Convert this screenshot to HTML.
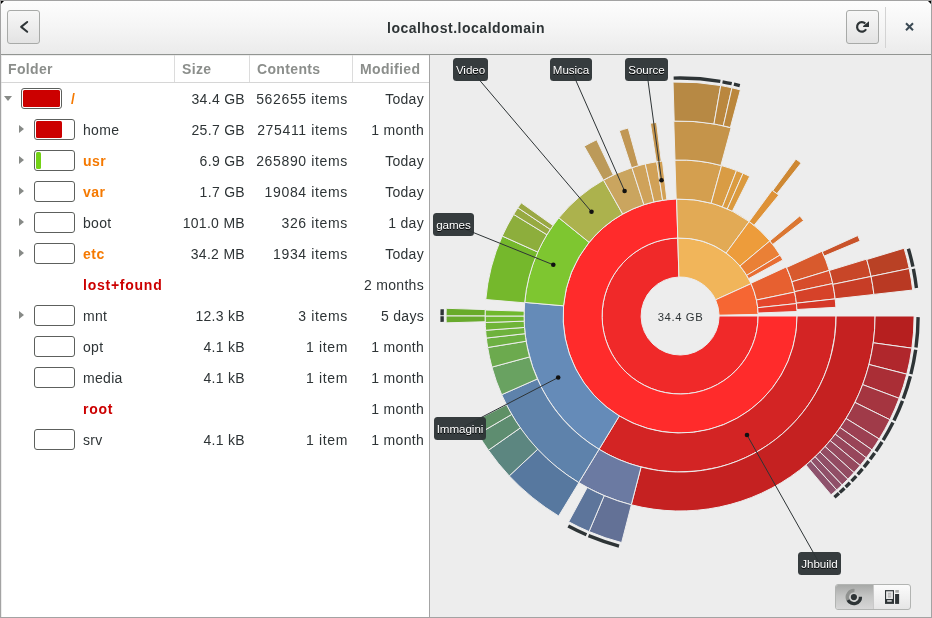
<!DOCTYPE html>
<html><head><meta charset="utf-8"><title>Disk Usage Analyzer</title>
<style>
*{box-sizing:border-box;margin:0;padding:0}
html,body{width:932px;height:618px;overflow:hidden;background:#ededed;font-family:"Liberation Sans",sans-serif;color:#2e3436}
#win{position:absolute;left:0;top:0;width:932px;height:618px;border:1px solid #a3a3a3;overflow:hidden}
#hdr{position:absolute;left:1px;top:1px;width:930px;height:54px;background:linear-gradient(#fdfdfd,#f5f5f5 50%,#ebebeb);border-bottom:1px solid #929592}
#corner{position:absolute;left:1px;top:1px;width:0;height:0;border-top:3px solid #000;border-right:3px solid transparent}
#corner2{position:absolute;right:1px;top:1px;width:0;height:0;border-top:3px solid #000;border-left:3px solid transparent}
.btn{position:absolute;top:10px;width:33px;height:34px;border:1px solid #a8aaa8;border-radius:3px;background:linear-gradient(#f7f7f7,#e3e3e3)}
#title{position:absolute;left:0;top:19px;width:932px;text-align:center;font-weight:bold;font-size:14px;line-height:18px;letter-spacing:.52px;color:#2e3436}
#sep{position:absolute;left:885px;top:7px;width:1px;height:41px;background:#d3d3d3}
#tree{position:absolute;left:1px;top:55px;width:428px;height:562px;background:#fff}
#div{position:absolute;left:429px;top:55px;width:1px;height:562px;background:#a4a4a4}
#chartbg{position:absolute;left:430px;top:55px;width:501px;height:562px;background:#ededed}
.th{position:absolute;top:56px;height:27px;font-weight:bold;font-size:14px;line-height:27px;color:#8b8e8b;letter-spacing:.35px}
.vs{position:absolute;top:55px;width:1px;height:27px;background:#dcdcdc}
#hl{position:absolute;left:1px;top:82px;width:428px;height:1px;background:#d6d6d6}
.row{position:absolute;left:0;width:429px;height:31px;font-size:14px;line-height:31px;letter-spacing:.3px;white-space:nowrap}
.row span{position:absolute;top:1px}
.exd{position:absolute;left:4px;top:13px;width:0;height:0;border-left:4.5px solid transparent;border-right:4.5px solid transparent;border-top:5px solid #878a87}
.exr{position:absolute;left:19px;top:11px;width:0;height:0;border-top:4.8px solid transparent;border-bottom:4.8px solid transparent;border-left:5.2px solid #878a87}
.row .bar{top:5px;width:41px;height:21px;border:1px solid #5d605d;border-radius:3px;background:#fff}
.bar b{position:absolute;left:1px;top:1px;height:17px;border-radius:1.5px}
.nm.o{font-weight:bold;color:#f57900;letter-spacing:.5px}
.nm.r{font-weight:bold;color:#cc0000;letter-spacing:.75px}
.c1{right:184px}.c2{right:81px;letter-spacing:.65px}.c3{right:5px}
.chart{position:absolute;left:0;top:0}
.tip{position:absolute;height:23px;border-radius:3.5px;background:rgba(46,52,54,.96);color:#fff;font-size:11.6px;padding-top:2px;line-height:19.6px;text-align:center;letter-spacing:-.05px;text-shadow:0 1px 0 #000}
#ctr{position:absolute;left:640.5px;top:308px;width:80px;text-align:center;font-size:11.3px;line-height:18px;letter-spacing:.6px;color:#2e3436}
#tog{position:absolute;left:835px;top:584px;width:76px;height:26px;border:1px solid #b2b4b2;border-radius:3px;background:linear-gradient(#fbfbfb,#e6e6e6);overflow:hidden}
#tog i{position:absolute;left:0;top:0;width:37.6px;height:24px;background:linear-gradient(#a7a9a7,#c3c4c3 45%,#d6d6d6);border-right:1px solid #c9c9c9}
</style></head><body>
<div id="all" style="position:absolute;left:0;top:0;width:932px;height:618px;will-change:transform">
<div id="win">
<div id="chartbg"></div>
<div id="tree"></div>
</div>
<div id="hdr"></div><div id="corner"></div><div id="corner2"></div>
<div class="btn" style="left:7px"><svg width="31" height="32" viewBox="0 0 31 32"><path d="M19.2 11L13.15 15.9L19.2 20.8" fill="none" stroke="#2e3436" stroke-width="2" stroke-linecap="round" stroke-linejoin="round"/></svg></div>
<div id="title">localhost.localdomain</div>
<div class="btn" style="left:846px"><svg width="31" height="32" viewBox="0 0 31 32"><path d="M18.29 12.51A4.8 4.8 0 1 0 19.06 18.3" fill="none" stroke="#2e3436" stroke-width="2.2"/><path d="M22 10.2V16.1H16.1V15Z" fill="#2e3436"/></svg></div>
<div id="sep"></div>
<svg style="position:absolute;left:903.9px;top:21.3px" width="12" height="12" viewBox="0 0 12 12"><path d="M2 2.3L9 9.3M9 2.3L2 9.3" stroke="#3b4a54" stroke-width="2" fill="none"/></svg>
<div id="div"></div>
<div class="th" style="left:8px">Folder</div><div class="th" style="left:182px">Size</div><div class="th" style="left:257px">Contents</div><div class="th" style="left:360px">Modified</div>
<div class="vs" style="left:174px"></div><div class="vs" style="left:249px"></div><div class="vs" style="left:352px"></div>
<div id="hl"></div>
<div class="row" style="top:83px"><i class="exd"></i><span class="bar" style="left:21px"><b style="width:37px;background:#cc0000"></b></span><span class="nm o" style="left:71px">/</span><span class="c1">34.4 GB</span><span class="c2">562655 items</span><span class="c3">Today</span></div>
<div class="row" style="top:114px"><i class="exr"></i><span class="bar" style="left:34px"><b style="width:26px;background:#cc0000"></b></span><span class="nm n" style="left:83px">home</span><span class="c1">25.7 GB</span><span class="c2">275411 items</span><span class="c3">1 month</span></div>
<div class="row" style="top:145px"><i class="exr"></i><span class="bar" style="left:34px"><b style="width:5px;background:#73d216"></b></span><span class="nm o" style="left:83px">usr</span><span class="c1">6.9 GB</span><span class="c2">265890 items</span><span class="c3">Today</span></div>
<div class="row" style="top:176px"><i class="exr"></i><span class="bar" style="left:34px"></span><span class="nm o" style="left:83px">var</span><span class="c1">1.7 GB</span><span class="c2">19084 items</span><span class="c3">Today</span></div>
<div class="row" style="top:207px"><i class="exr"></i><span class="bar" style="left:34px"></span><span class="nm n" style="left:83px">boot</span><span class="c1">101.0 MB</span><span class="c2">326 items</span><span class="c3">1 day</span></div>
<div class="row" style="top:238px"><i class="exr"></i><span class="bar" style="left:34px"></span><span class="nm o" style="left:83px">etc</span><span class="c1">34.2 MB</span><span class="c2">1934 items</span><span class="c3">Today</span></div>
<div class="row" style="top:269px"><span class="nm r" style="left:83px">lost+found</span><span class="c1"></span><span class="c2"></span><span class="c3">2 months</span></div>
<div class="row" style="top:300px"><i class="exr"></i><span class="bar" style="left:34px"></span><span class="nm n" style="left:83px">mnt</span><span class="c1">12.3 kB</span><span class="c2">3 items</span><span class="c3">5 days</span></div>
<div class="row" style="top:331px"><span class="bar" style="left:34px"></span><span class="nm n" style="left:83px">opt</span><span class="c1">4.1 kB</span><span class="c2">1 item</span><span class="c3">1 month</span></div>
<div class="row" style="top:362px"><span class="bar" style="left:34px"></span><span class="nm n" style="left:83px">media</span><span class="c1">4.1 kB</span><span class="c2">1 item</span><span class="c3">1 month</span></div>
<div class="row" style="top:393px"><span class="nm r" style="left:83px">root</span><span class="c1"></span><span class="c2"></span><span class="c3">1 month</span></div>
<div class="row" style="top:424px"><span class="bar" style="left:34px"></span><span class="nm n" style="left:83px">srv</span><span class="c1">4.1 kB</span><span class="c2">1 item</span><span class="c3">1 month</span></div>
<svg class="chart" width="932" height="618" viewBox="0 0 932 618">
<g stroke="#ededed" stroke-width="1" stroke-linejoin="round">
<path d="M719.10 316.00L758.10 316.00A78.00 78.00 0 1 1 677.79 238.03L678.94 277.02A39.00 39.00 0 1 0 719.10 316.00Z" fill="#f02929"/>
<path d="M678.94 277.02L677.79 238.03A78.00 78.00 0 0 1 751.08 283.65L715.59 299.83A39.00 39.00 0 0 0 678.94 277.02Z" fill="#f1b55a"/>
<path d="M715.59 299.83L751.08 283.65A78.00 78.00 0 0 1 758.08 314.37L719.09 315.18A39.00 39.00 0 0 0 715.59 299.83Z" fill="#f66633"/>
<path d="M758.10 316.00L797.10 316.00A117.00 117.00 0 1 1 676.63 199.05L677.79 238.03A78.00 78.00 0 1 0 758.10 316.00Z" fill="#ff2b2b"/>
<path d="M677.79 238.03L676.63 199.05A117.00 117.00 0 0 1 749.20 221.59L726.17 253.06A78.00 78.00 0 0 0 677.79 238.03Z" fill="#e2aa55"/>
<path d="M726.17 253.06L749.20 221.59A117.00 117.00 0 0 1 769.86 240.95L739.94 265.97A78.00 78.00 0 0 0 726.17 253.06Z" fill="#ed9c3b"/>
<path d="M739.94 265.97L769.86 240.95A117.00 117.00 0 0 1 779.97 255.04L746.68 275.36A78.00 78.00 0 0 0 739.94 265.97Z" fill="#ea8036"/>
<path d="M746.68 275.36L779.97 255.04A117.00 117.00 0 0 1 782.82 259.98L748.58 278.65A78.00 78.00 0 0 0 746.68 275.36Z" fill="#e86e33"/>
<path d="M750.91 283.29L786.32 266.94A117.00 117.00 0 0 1 794.63 292.07L756.45 300.05A78.00 78.00 0 0 0 750.91 283.29Z" fill="#e76030"/>
<path d="M756.45 300.05L794.63 292.07A117.00 117.00 0 0 1 796.44 303.57L757.66 307.71A78.00 78.00 0 0 0 756.45 300.05Z" fill="#e4462c"/>
<path d="M757.66 307.71L796.44 303.57A117.00 117.00 0 0 1 797.01 311.51L758.04 313.01A78.00 78.00 0 0 0 757.66 307.71Z" fill="#e33a2a"/>
<path d="M797.10 316.00L836.10 316.00A156.00 156.00 0 0 1 599.06 449.30L619.32 415.97A117.00 117.00 0 0 0 797.10 316.00Z" fill="#d32424"/>
<path d="M619.32 415.97L599.06 449.30A156.00 156.00 0 0 1 524.69 302.40L563.55 305.80A117.00 117.00 0 0 0 619.32 415.97Z" fill="#658bb8"/>
<path d="M563.55 305.80L524.69 302.40A156.00 156.00 0 0 1 558.87 217.83L589.17 242.37A117.00 117.00 0 0 0 563.55 305.80Z" fill="#7ec630"/>
<path d="M589.17 242.37L558.87 217.83A156.00 156.00 0 0 1 603.52 180.09L622.66 214.07A117.00 117.00 0 0 0 589.17 242.37Z" fill="#acb24d"/>
<path d="M622.66 214.07L603.52 180.09A156.00 156.00 0 0 1 631.89 167.64L643.95 204.73A117.00 117.00 0 0 0 622.66 214.07Z" fill="#caa55f"/>
<path d="M643.95 204.73L631.89 167.64A156.00 156.00 0 0 1 645.27 163.94L653.98 201.95A117.00 117.00 0 0 0 643.95 204.73Z" fill="#cfa25a"/>
<path d="M653.98 201.95L645.27 163.94A156.00 156.00 0 0 1 656.77 161.75L662.60 200.32A117.00 117.00 0 0 0 653.98 201.95Z" fill="#d1a157"/>
<path d="M662.60 200.32L656.77 161.75A156.00 156.00 0 0 1 662.47 161.00L666.88 199.75A117.00 117.00 0 0 0 662.60 200.32Z" fill="#d2a054"/>
<path d="M676.20 199.06L674.90 160.09A156.00 156.00 0 0 1 721.53 165.60L711.17 203.20A117.00 117.00 0 0 0 676.20 199.06Z" fill="#d49f4f"/>
<path d="M711.17 203.20L721.53 165.60A156.00 156.00 0 0 1 736.51 170.56L722.41 206.92A117.00 117.00 0 0 0 711.17 203.20Z" fill="#d99c44"/>
<path d="M722.41 206.92L736.51 170.56A156.00 156.00 0 0 1 743.05 173.27L727.31 208.95A117.00 117.00 0 0 0 722.41 206.92Z" fill="#db9b40"/>
<path d="M727.31 208.95L743.05 173.27A156.00 156.00 0 0 1 749.73 176.40L732.32 211.30A117.00 117.00 0 0 0 727.31 208.95Z" fill="#db9a3e"/>
<path d="M749.18 221.57L772.21 190.10A156.00 156.00 0 0 1 778.72 195.13L754.06 225.34A117.00 117.00 0 0 0 749.18 221.57Z" fill="#de9237"/>
<path d="M769.85 240.93L799.76 215.91A156.00 156.00 0 0 1 803.55 220.62L772.69 244.47A117.00 117.00 0 0 0 769.85 240.93Z" fill="#db7732"/>
<path d="M786.56 267.46L822.04 251.28A156.00 156.00 0 0 1 829.28 270.39L791.99 281.79A117.00 117.00 0 0 0 786.56 267.46Z" fill="#d85a2d"/>
<path d="M791.99 281.79L829.28 270.39A156.00 156.00 0 0 1 832.69 283.57L794.54 291.67A117.00 117.00 0 0 0 791.99 281.79Z" fill="#d74c2b"/>
<path d="M794.54 291.67L832.69 283.57A156.00 156.00 0 0 1 835.16 298.88L796.39 303.16A117.00 117.00 0 0 0 794.54 291.67Z" fill="#d64229"/>
<path d="M796.39 303.16L835.16 298.88A156.00 156.00 0 0 1 835.86 307.32L796.92 309.49A117.00 117.00 0 0 0 796.39 303.16Z" fill="#d53727"/>
<path d="M836.10 316.00L875.10 316.00A195.00 195.00 0 0 1 631.28 504.79L641.04 467.03A156.00 156.00 0 0 0 836.10 316.00Z" fill="#c52121"/>
<path d="M641.04 467.03L631.28 504.79A195.00 195.00 0 0 1 578.79 482.62L599.06 449.30A156.00 156.00 0 0 0 641.04 467.03Z" fill="#6b7aa2"/>
<path d="M599.06 449.30L578.79 482.62A195.00 195.00 0 0 1 501.68 394.69L537.37 378.95A156.00 156.00 0 0 0 599.06 449.30Z" fill="#5e82ab"/>
<path d="M537.37 378.95L501.68 394.69A195.00 195.00 0 0 1 491.92 367.13L529.56 356.90A156.00 156.00 0 0 0 537.37 378.95Z" fill="#69a261"/>
<path d="M529.56 356.90L491.92 367.13A195.00 195.00 0 0 1 487.66 347.51L526.15 341.21A156.00 156.00 0 0 0 529.56 356.90Z" fill="#6caa4e"/>
<path d="M526.15 341.21L487.66 347.51A195.00 195.00 0 0 1 486.35 338.07L525.10 333.66A156.00 156.00 0 0 0 526.15 341.21Z" fill="#6db042"/>
<path d="M525.10 333.66L486.35 338.07A195.00 195.00 0 0 1 485.62 330.28L524.52 327.43A156.00 156.00 0 0 0 525.10 333.66Z" fill="#6eb23c"/>
<path d="M524.52 327.43L485.62 330.28A195.00 195.00 0 0 1 485.21 322.47L524.19 321.17A156.00 156.00 0 0 0 524.52 327.43Z" fill="#6fb437"/>
<path d="M524.19 321.17L485.21 322.47A195.00 195.00 0 0 1 485.10 316.00L524.10 316.00A156.00 156.00 0 0 0 524.19 321.17Z" fill="#70b732"/>
<path d="M524.10 316.00L485.10 316.00A195.00 195.00 0 0 1 485.19 310.00L524.17 311.20A156.00 156.00 0 0 0 524.10 316.00Z" fill="#70b82e"/>
<path d="M524.66 302.85L485.79 299.56A195.00 195.00 0 0 1 502.24 236.07L537.81 252.05A156.00 156.00 0 0 0 524.66 302.85Z" fill="#75b82c"/>
<path d="M537.81 252.05L502.24 236.07A195.00 195.00 0 0 1 513.66 214.40L546.95 234.72A156.00 156.00 0 0 0 537.81 252.05Z" fill="#8dae3c"/>
<path d="M546.95 234.72L513.66 214.40A195.00 195.00 0 0 1 517.87 207.81L550.32 229.44A156.00 156.00 0 0 0 546.95 234.72Z" fill="#97aa41"/>
<path d="M550.32 229.44L517.87 207.81A195.00 195.00 0 0 1 521.27 202.86L553.04 225.49A156.00 156.00 0 0 0 550.32 229.44Z" fill="#9aa843"/>
<path d="M603.37 180.18L584.19 146.22A195.00 195.00 0 0 1 596.65 139.76L613.34 175.01A156.00 156.00 0 0 0 603.37 180.18Z" fill="#bc9a59"/>
<path d="M631.47 167.77L619.31 130.72A195.00 195.00 0 0 1 628.20 128.03L638.58 165.63A156.00 156.00 0 0 0 631.47 167.77Z" fill="#c19754"/>
<path d="M656.33 161.82L650.39 123.28A195.00 195.00 0 0 1 656.55 122.43L661.26 161.14A156.00 156.00 0 0 0 656.33 161.82Z" fill="#c4954e"/>
<path d="M675.03 160.08L673.76 121.10A195.00 195.00 0 0 1 731.11 127.79L720.90 165.43A156.00 156.00 0 0 0 675.03 160.08Z" fill="#c5944a"/>
<path d="M772.75 190.50L795.92 159.12A195.00 195.00 0 0 1 801.13 163.10L776.92 193.68A156.00 156.00 0 0 0 772.75 190.50Z" fill="#ce8833"/>
<path d="M822.21 251.65L857.73 235.56A195.00 195.00 0 0 1 860.14 241.10L824.13 256.08A156.00 156.00 0 0 0 822.21 251.65Z" fill="#c9532a"/>
<path d="M829.31 270.49L866.62 259.11A195.00 195.00 0 0 1 871.05 276.46L832.86 284.37A156.00 156.00 0 0 0 829.31 270.49Z" fill="#c84628"/>
<path d="M832.86 284.37L871.05 276.46A195.00 195.00 0 0 1 873.91 294.48L835.15 298.78A156.00 156.00 0 0 0 832.86 284.37Z" fill="#c73d26"/>
<path d="M875.10 316.00L914.10 316.00A234.00 234.00 0 0 1 911.88 348.16L873.25 342.80A195.00 195.00 0 0 0 875.10 316.00Z" fill="#b61f1f"/>
<path d="M873.25 342.80L911.88 348.16A234.00 234.00 0 0 1 906.75 374.19L868.97 364.49A195.00 195.00 0 0 0 873.25 342.80Z" fill="#b0272c"/>
<path d="M868.97 364.49L906.75 374.19A234.00 234.00 0 0 1 899.14 398.33L862.63 384.61A195.00 195.00 0 0 0 868.97 364.49Z" fill="#aa2e36"/>
<path d="M862.63 384.61L899.14 398.33A234.00 234.00 0 0 1 889.88 419.68L854.91 402.40A195.00 195.00 0 0 0 862.63 384.61Z" fill="#a53540"/>
<path d="M854.91 402.40L889.88 419.68A234.00 234.00 0 0 1 879.19 438.96L846.01 418.47A195.00 195.00 0 0 0 854.91 402.40Z" fill="#a03b49"/>
<path d="M846.01 418.47L879.19 438.96A234.00 234.00 0 0 1 872.02 449.88L840.03 427.57A195.00 195.00 0 0 0 846.01 418.47Z" fill="#9c4052"/>
<path d="M840.03 427.57L872.02 449.88A234.00 234.00 0 0 1 866.24 457.80L835.22 434.17A195.00 195.00 0 0 0 840.03 427.57Z" fill="#994457"/>
<path d="M835.22 434.17L866.24 457.80A234.00 234.00 0 0 1 860.14 465.47L830.13 440.56A195.00 195.00 0 0 0 835.22 434.17Z" fill="#97465b"/>
<path d="M830.13 440.56L860.14 465.47A234.00 234.00 0 0 1 854.00 472.58L825.01 446.48A195.00 195.00 0 0 0 830.13 440.56Z" fill="#95495e"/>
<path d="M825.01 446.48L854.00 472.58A234.00 234.00 0 0 1 847.86 479.14L819.90 451.95A195.00 195.00 0 0 0 825.01 446.48Z" fill="#934b62"/>
<path d="M819.90 451.95L847.86 479.14A234.00 234.00 0 0 1 842.06 484.89L815.07 456.74A195.00 195.00 0 0 0 819.90 451.95Z" fill="#914e66"/>
<path d="M815.07 456.74L842.06 484.89A234.00 234.00 0 0 1 836.68 489.90L810.58 460.91A195.00 195.00 0 0 0 815.07 456.74Z" fill="#905069"/>
<path d="M810.58 460.91L836.68 489.90A234.00 234.00 0 0 1 831.03 494.82L805.88 465.01A195.00 195.00 0 0 0 810.58 460.91Z" fill="#8e526c"/>
<path d="M631.39 504.82L621.64 542.58A234.00 234.00 0 0 1 589.04 531.56L604.22 495.63A195.00 195.00 0 0 0 631.39 504.82Z" fill="#637196"/>
<path d="M604.22 495.63L589.04 531.56A234.00 234.00 0 0 1 568.68 521.77L587.25 487.48A195.00 195.00 0 0 0 604.22 495.63Z" fill="#5d759b"/>
<path d="M578.89 482.68L558.65 516.01A234.00 234.00 0 0 1 509.24 475.89L537.72 449.24A195.00 195.00 0 0 0 578.89 482.68Z" fill="#57789f"/>
<path d="M537.72 449.24L509.24 475.89A234.00 234.00 0 0 1 488.42 450.22L520.37 427.85A195.00 195.00 0 0 0 537.72 449.24Z" fill="#5c8680"/>
<path d="M520.37 427.85L488.42 450.22A234.00 234.00 0 0 1 478.07 434.06L511.74 414.38A195.00 195.00 0 0 0 520.37 427.85Z" fill="#5e8d70"/>
<path d="M511.74 414.38L478.07 434.06A234.00 234.00 0 0 1 471.73 422.48L506.46 404.73A195.00 195.00 0 0 0 511.74 414.38Z" fill="#5f9166"/>
<path d="M485.18 321.73L446.20 322.87A234.00 234.00 0 0 1 446.10 315.80L485.10 315.83A195.00 195.00 0 0 0 485.18 321.73Z" fill="#68aa2d"/>
<path d="M485.10 315.83L446.10 315.80A234.00 234.00 0 0 1 446.23 308.31L485.21 309.59A195.00 195.00 0 0 0 485.10 315.83Z" fill="#68ab2a"/>
<path d="M674.20 121.09L673.02 82.11A234.00 234.00 0 0 1 720.73 85.55L713.96 123.96A195.00 195.00 0 0 0 674.20 121.09Z" fill="#b78944"/>
<path d="M713.96 123.96L720.73 85.55A234.00 234.00 0 0 1 731.94 87.82L723.30 125.85A195.00 195.00 0 0 0 713.96 123.96Z" fill="#ba873e"/>
<path d="M723.30 125.85L731.94 87.82A234.00 234.00 0 0 1 740.40 89.90L730.35 127.59A195.00 195.00 0 0 0 723.30 125.85Z" fill="#bb873c"/>
<path d="M866.74 259.53L904.07 248.24A234.00 234.00 0 0 1 909.24 268.55L871.05 276.46A195.00 195.00 0 0 0 866.74 259.53Z" fill="#b94125"/>
<path d="M871.05 276.46L909.24 268.55A234.00 234.00 0 0 1 912.66 290.05L873.90 294.38A195.00 195.00 0 0 0 871.05 276.46Z" fill="#b93923"/>
</g>
<path d="M918.10 317.12A238 238 0 0 1 915.99 347.60 M915.68 349.82A238 238 0 0 1 910.90 374.10 M910.34 376.27A238 238 0 0 1 903.27 398.69 M902.49 400.79A238 238 0 0 1 893.96 420.44 M892.96 422.46A238 238 0 0 1 883.18 440.11 M882.00 442.02A238 238 0 0 1 875.94 451.25 M874.65 453.09A238 238 0 0 1 870.10 459.33 M868.74 461.12A238 238 0 0 1 863.93 467.16 M862.50 468.89A238 238 0 0 1 857.72 474.42 M856.22 476.08A238 238 0 0 1 851.50 481.12 M849.94 482.73A238 238 0 0 1 845.64 487.00 M844.44 488.15A238 238 0 0 1 839.75 492.51 M838.95 493.23A238 238 0 0 1 834.45 497.17 M619.02 546.03A238 238 0 0 1 588.52 535.68 M586.46 534.80A238 238 0 0 1 568.26 526.08 M442.17 321.90A238 238 0 0 1 442.10 316.33 M442.10 315.25A238 238 0 0 1 442.20 309.27 M673.66 78.09A238 238 0 0 1 720.32 81.42 M722.53 81.81A238 238 0 0 1 731.73 83.67 M733.92 84.17A238 238 0 0 1 739.81 85.61 M908.38 248.68A238 238 0 0 1 912.93 266.64 M913.38 268.84A238 238 0 0 1 916.44 287.94" fill="none" stroke="#2e3436" stroke-width="3.4"/>
<g stroke="#2e3436" stroke-width="1"><line x1="470.5" y1="69.5" x2="591.5" y2="211.8"/><circle cx="591.5" cy="211.8" r="2.3" fill="#111" stroke="none"/><line x1="571.0" y1="69.5" x2="624.6" y2="191.0"/><circle cx="624.6" cy="191.0" r="2.3" fill="#111" stroke="none"/><line x1="646.5" y1="69.5" x2="661.5" y2="180.3"/><circle cx="661.5" cy="180.3" r="2.3" fill="#111" stroke="none"/><line x1="453.5" y1="224.5" x2="553.3" y2="264.8"/><circle cx="553.3" cy="264.8" r="2.3" fill="#111" stroke="none"/><line x1="460.0" y1="428.5" x2="558.2" y2="377.5"/><circle cx="558.2" cy="377.5" r="2.3" fill="#111" stroke="none"/><line x1="819.5" y1="563.5" x2="747.0" y2="435.0"/><circle cx="747.0" cy="435.0" r="2.3" fill="#111" stroke="none"/></g>
</svg>
<div id="ctr">34.4 GB</div>
<div class="tip" style="left:453px;top:58px;width:35px">Video</div>
<div class="tip" style="left:550px;top:58px;width:42px">Musica</div>
<div class="tip" style="left:625px;top:58px;width:43px">Source</div>
<div class="tip" style="left:433px;top:213px;width:41px">games</div>
<div class="tip" style="left:434px;top:417px;width:52px">Immagini</div>
<div class="tip" style="left:798px;top:552px;width:43px">Jhbuild</div>
<div id="tog"><i></i>
<svg style="position:absolute;left:0;top:0" width="74" height="24" viewBox="0 0 74 24"><path d="M11.97 14.99A6.6 6.6 0 0 1 18.48 5.53" fill="none" stroke="#8f918f" stroke-width="3.3"/><path d="M24.49 11.75A6.6 6.6 0 0 1 11.97 14.99" fill="none" stroke="#2e3436" stroke-width="3.3"/><circle cx="17.9" cy="12.1" r="3.1" fill="#2e3436"/><circle cx="17.9" cy="12.1" r="3.9" fill="none" stroke="#e4e4e4" stroke-width="1" opacity=".35"/>
<rect x="49" y="5.1" width="9" height="13.8" fill="#2e3436"/><rect x="50.1" y="6.3" width="6.8" height="7.7" fill="#e9e9e9"/><rect x="51.9" y="7.7" width="3.3" height="5" fill="#bdbdbd"/><rect x="52.4" y="9.6" width="2.3" height=".8" fill="#e0e0e0"/><rect x="51.2" y="15.3" width="4.5" height="1.3" fill="#fff"/><rect x="59.1" y="9" width="4" height="9.9" fill="#2e3436"/><rect x="59.3" y="5" width="3.6" height="2.7" fill="#a9aba9"/></svg></div>
</div>
</body></html>
